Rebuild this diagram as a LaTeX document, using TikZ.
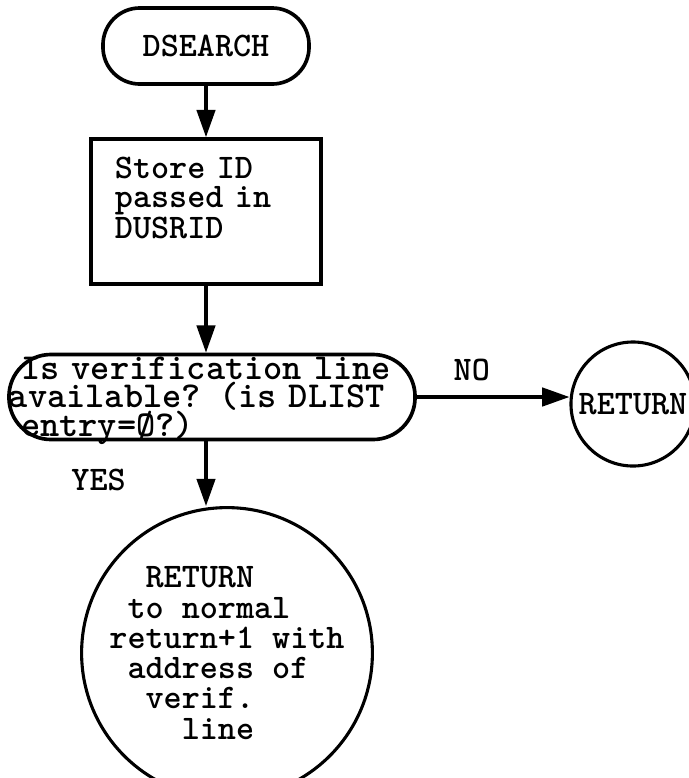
\documentclass[tikz,border=0pt]{standalone}
\usepackage{fontspec}
\usetikzlibrary{arrows.meta,positioning}
% typewriter text with full-width spaces
\newcommand{\flowfont}[2][24.5]{\ttfamily\bfseries\fontsize{#1}{#2}\selectfont
  \fontdimen2\font=0.525em\fontdimen3\font=0pt\fontdimen4\font=0pt}

\begin{document}
\begin{tikzpicture}[
  x=0.025cm, y=-0.025cm,
  every node/.style={font=\flowfont{20.5}},
  term/.style={draw,line width=2.6pt,rounded corners=0.92cm,minimum width=5.15cm,
               minimum height=1.9cm,inner sep=0pt},
  procbox/.style={draw,line width=2.6pt,minimum width=5.75cm,minimum height=3.625cm,
                  inner xsep=0.6cm,inner ysep=0.5cm,text width=4.55cm,
                  text height=0.5cm,text depth=2.125cm,align=left},
  decision/.style={draw,line width=2.6pt,rounded corners=1.05cm,minimum width=10.025cm,
                   minimum height=2.125cm,inner xsep=0pt,inner ysep=0pt,text width=10.15cm,
                   text height=0.62cm,text depth=1.5cm,align=left,font=\flowfont[26]{20.3}},
  exitnode/.style={draw,circle,line width=2.2pt,inner sep=0pt},
  flow/.style={-{Triangle[length=0.68cm,width=0.46cm]},line width=2.2pt}
]
  \useasboundingbox (0,0) rectangle (689,778);

  % Boxes
  \node[term] (dsearch) at (206,46) {DSEARCH};
  \node[procbox] (store) at (206,211.5) {Store ID\\passed in\\DUSRID};
  \node[decision] (avail) at (212,397) {~Is verification line\\available? (is DLIST\\~entry=Ø?)};
  \node[exitnode,minimum size=3.1cm] (retno) at (633,404) {RETURN};
  \node[exitnode,minimum size=6.25cm,align=left,font=\flowfont{21.5}] (retyes) at (227,653)
    {~~RETURN\\~to normal\\return+1 with\\~address of\\~~verif.\\~~~~line};

  % Flow lines
  \draw[flow] (dsearch.south) -- (dsearch.south |- store.north);
  \draw[flow] (store.south) -- (store.south |- avail.north);
  \draw[flow] (avail.east) -- node[pos=0.36,above=0.25cm]{NO} (avail.east -| retno.west);
  \draw[flow] (store.south |- avail.south) -- node[pos=0.6,left=1.85cm]{YES} (store.south |- retyes.north);
\end{tikzpicture}
\end{document}
